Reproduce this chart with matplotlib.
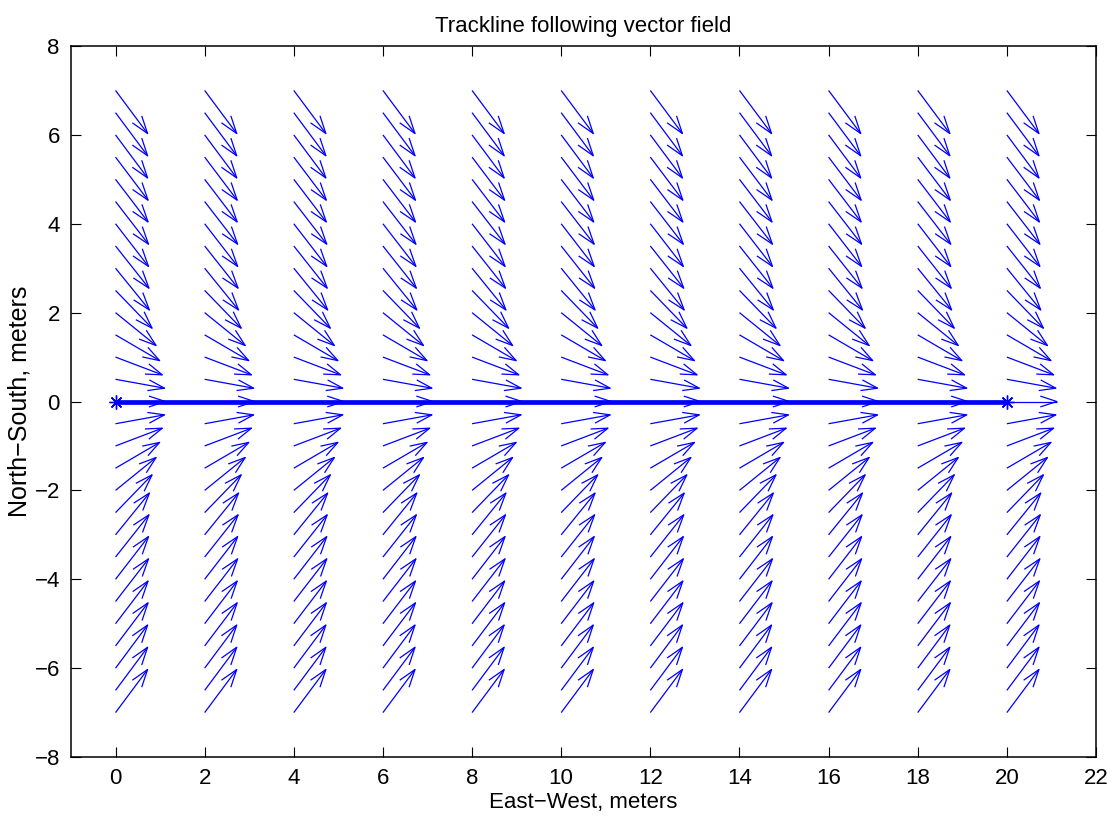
import numpy as np
import matplotlib
matplotlib.use('Agg')
from matplotlib import pyplot as plt
from matplotlib.collections import LineCollection

plt.rcParams['font.family'] = ['Liberation Sans', 'DejaVu Sans']

# grid of the vector field
col_x = [0, 2, 4, 6, 8, 10, 12, 14, 16, 18, 20]
row_abs_y = [0, 0.5, 1, 1.5, 2, 2.5, 3, 3.5, 4, 4.5, 5, 5.5, 6, 6.5, 7]
# vector components, for |y| rows (v points toward y=0)
u_abs = [1.12, 1.10, 1.05, 0.99, 0.91, 0.82, 0.76, 0.75, 0.74, 0.74, 0.73, 0.73, 0.72, 0.72, 0.72]
v_abs = [0.00, 0.20, 0.40, 0.58, 0.74, 0.85, 0.94, 0.95, 0.96, 0.96, 0.96, 0.97, 0.97, 0.97, 0.97]

# trackline
track_x = [0, 20]
track_y = [0, 0]

xticks = list(range(0, 23, 2))
yticks = list(range(-8, 9, 2))

# build the full field (mirror for negative y)
ys, us, vs = [], [], []
for yy, uu, vv in zip(row_abs_y, u_abs, v_abs):
    ys.append(yy); us.append(uu); vs.append(-vv)
    if yy > 0:
        ys.append(-yy); us.append(uu); vs.append(vv)
X, Y = np.meshgrid(col_x, ys)
U = np.tile(np.array(us)[:, None], (1, len(col_x)))
V = np.tile(np.array(vs)[:, None], (1, len(col_x)))
X, Y, U, V = X.ravel(), Y.ravel(), U.ravel(), V.ravel()

# matlab style open arrow heads
alpha, beta = 0.33, 0.33
segs = []
for x, y, u, v in zip(X, Y, U, V):
    tip = (x + u, y + v)
    segs.append([(x, y), tip])
    segs.append([(x + u - alpha * (u + beta * v), y + v - alpha * (v - beta * u)), tip,
                 (x + u - alpha * (u - beta * v), y + v - alpha * (v + beta * u))])

fig = plt.figure(figsize=(11.12, 8.17), dpi=100)
ax = fig.add_axes([0.0638, 0.0734, 0.9218, 0.8703])

ax.add_collection(LineCollection(segs, colors='#0000ff', linewidths=0.9))
ax.plot(track_x, track_y, '-', color='#0000ff', linewidth=3.4,
        marker=(8, 2, 0), markersize=10, markeredgewidth=1.0)

ax.set_xlim(-1, 22)
ax.set_ylim(-8, 8)
ax.set_xticks(xticks)
ax.set_yticks(yticks)
ax.tick_params(direction='in', length=7, width=0.8, top=True, right=True,
               labelsize=16, pad=8)
for s in ax.spines.values():
    s.set_linewidth(1.1)

ax.set_title('Trackline following vector field', fontsize=16, pad=10)
ax.set_xlabel('East\u2212West, meters', fontsize=16, labelpad=2)
ax.set_ylabel('North\u2212South, meters', fontsize=18, labelpad=2)

fig.savefig('out.png', dpi=100)
